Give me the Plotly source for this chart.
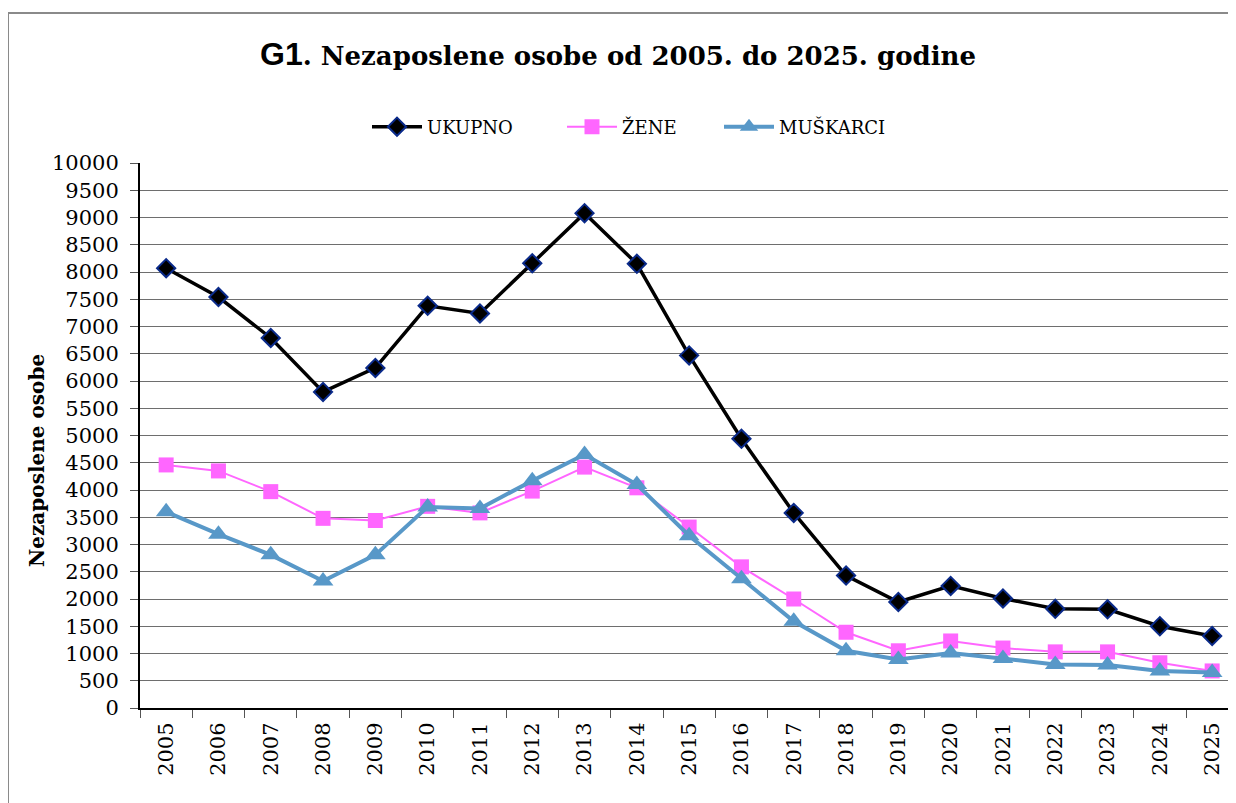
import plotly.graph_objects as go

years = [str(y) for y in range(2005, 2026)]
ukupno = [8070, 7540, 6790, 5800, 6240, 7380, 7240, 8160, 9080, 8150, 6470,
          4940, 3580, 2430, 1945, 2240, 2010, 1820, 1810, 1500, 1320]
zene = [4460, 4350, 3970, 3480, 3440, 3700, 3580, 3980, 4420, 4040, 3320,
        2590, 2000, 1390, 1050, 1230, 1100, 1030, 1030, 830, 680]
muskarci = [3600, 3190, 2810, 2330, 2810, 3690, 3660, 4170, 4650, 4100, 3160,
            2370, 1590, 1050, 890, 1010, 910, 800, 790, 680, 650]

OFF = 8  # page body offset
W, H = 1236 - OFF, 803 - OFF
L, T = 140 - OFF, 163 - OFF
R = 0
B = H - (708 - OFF)
pw, ph = W - L - R, H - T - B

def px(x):
    return (x - OFF - L) / pw

def py(y):
    return (H - B - (y - OFF)) / ph

fig = go.Figure()
fig.add_trace(go.Scatter(
    x=years, y=ukupno, name="UKUPNO", mode="lines+markers",
    line=dict(color="black", width=3.5),
    marker=dict(symbol="diamond", size=14, color="black",
                line=dict(color="#0a2a8a", width=2)),
    legend="legend"))
fig.add_trace(go.Scatter(
    x=years, y=zene, name="ŽENE", mode="lines+markers",
    line=dict(color="#ff66ff", width=2),
    marker=dict(symbol="square", size=15, color="#ff66ff"),
    legend="legend2"))
fig.add_trace(go.Scatter(
    x=years, y=muskarci, name="MUŠKARCI", mode="lines+markers",
    line=dict(color="#5898c8", width=4),
    marker=dict(symbol="triangle-up", size=18, color="#5898c8"),
    legend="legend3"))

spacing = 52.3
xr_end = -0.5 + pw / spacing

tickfont = dict(family="DejaVu Serif", size=21, color="black")
legfont = dict(family="DejaVu Serif", size=18, color="black")

def leg(x):
    return dict(x=px(x), y=py(127), xanchor="left", yanchor="middle",
                orientation="h", font=legfont, bgcolor="rgba(0,0,0,0)",
                itemwidth=50)

fig.update_layout(
    width=W, height=H,
    margin=dict(l=L, r=R, t=T, b=B),
    paper_bgcolor="white", plot_bgcolor="white",
    showlegend=True,
    legend=leg(367), legend2=leg(562), legend3=leg(719),
    xaxis=dict(type="category", range=[-0.5, xr_end], tickson="boundaries",
               ticks="outside", ticklen=8, tickcolor="#555", tickwidth=1,
               tickangle=-90, tickfont=tickfont, showgrid=False,
               showline=True, linecolor="black", linewidth=2,
               ticklabelstandoff=4),
    yaxis=dict(range=[0, 10000], dtick=500, tick0=0, ticks="outside",
               tickformat="d",
               ticklen=8, tickcolor="#555", tickwidth=1, tickfont=tickfont,
               showgrid=True, gridcolor="#6e6e6e", gridwidth=1.3,
               showline=True, linecolor="black", linewidth=2,
               zeroline=False, ticklabelstandoff=7),
    annotations=[
        dict(text="<span style='font-family:Liberation Sans;font-size:32px'>G1</span>. Nezaposlene osobe od 2005. do 2025. godine",
             x=px(618), y=py(54), xref="paper", yref="paper",
             xanchor="center", yanchor="middle", showarrow=False,
             font=dict(family="DejaVu Serif", size=26, color="black", weight="bold")),
        dict(text="Nezaposlene osobe", x=px(37), y=py(461), xref="paper", yref="paper",
             xanchor="center", yanchor="middle", showarrow=False, textangle=-90,
             font=dict(family="DejaVu Serif", size=20, color="black", weight="bold")),
    ],
    shapes=[
        dict(type="rect", xref="paper", yref="paper",
             x0=px(8), x1=px(1260), y0=py(830), y1=py(13),
             line=dict(color="#8a8a8a", width=2), layer="below"),
    ],
)

fig.write_html("out.html")
